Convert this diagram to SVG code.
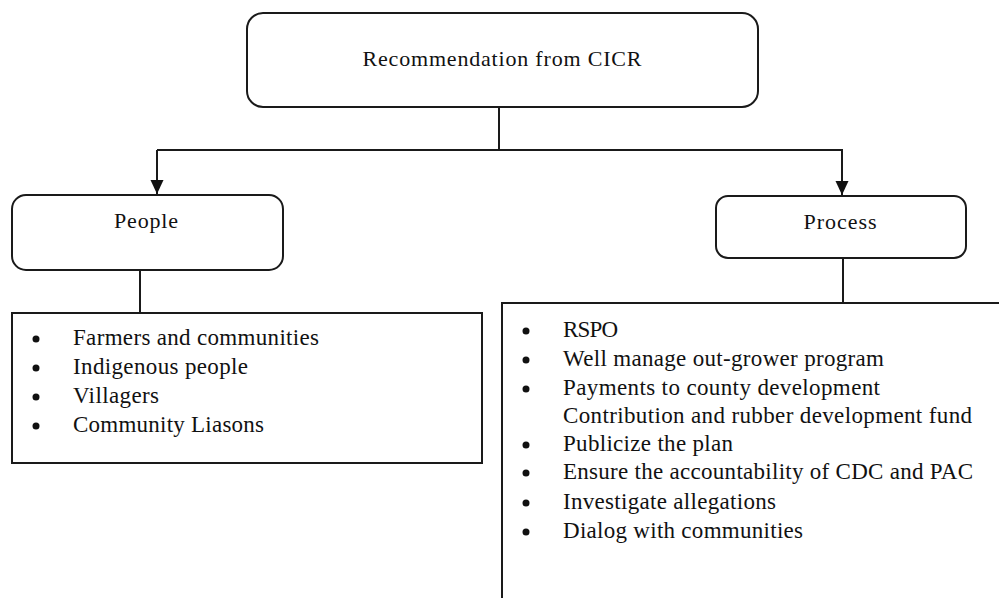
<svg xmlns="http://www.w3.org/2000/svg" width="999" height="598" viewBox="0 0 999 598">
<defs>
<style>
.box{fill:#fff;stroke:#1a1a1a;stroke-width:2}
.ln{fill:none;stroke:#1a1a1a;stroke-width:2}
text{font-family:"Liberation Serif","Times New Roman",serif;fill:#111}
.h{font-size:22px;text-anchor:middle}
.li{font-size:23px}
.b{fill:#111}
</style>
<marker id="arr" markerWidth="14" markerHeight="14" refX="14" refY="7" orient="auto" markerUnits="userSpaceOnUse" viewBox="0 0 14 14">
<path d="M0,0.5 L14,7 L0,13.5 z" fill="#111"/>
</marker>
</defs>
<g id="connectors">
<path class="ln" d="M499,107 V150"/>
<path class="ln" d="M157,150 H843"/>
<path class="ln" d="M157,150 V194" marker-end="url(#arr)"/>
<path class="ln" d="M842,150 V195" marker-end="url(#arr)"/>
<path class="ln" d="M140,270 V313"/>
<path class="ln" d="M843,258 V303"/>
</g>
<g id="root">
<rect class="box" x="247" y="13" width="511" height="94" rx="16"/>
<text class="h" x="502" y="66" textLength="279" lengthAdjust="spacing">Recommendation from CICR</text>
</g>
<g id="people">
<rect class="box" x="12" y="195" width="271" height="75" rx="14"/>
<text class="h" x="146" y="228" textLength="64" lengthAdjust="spacing">People</text>
</g>
<g id="process">
<rect class="box" x="716" y="196" width="250" height="62" rx="12"/>
<text class="h" x="840" y="229" textLength="73" lengthAdjust="spacing">Process</text>
</g>
<g id="people-list">
<rect class="box" x="12" y="313" width="470" height="150"/>
<g class="li">
<circle class="b" cx="36" cy="339" r="3.5"/><text x="73" y="345" textLength="246" lengthAdjust="spacing">Farmers and communities</text>
<circle class="b" cx="36" cy="368" r="3.5"/><text x="73" y="374" textLength="175" lengthAdjust="spacing">Indigenous people</text>
<circle class="b" cx="36" cy="397" r="3.5"/><text x="73" y="403" textLength="86" lengthAdjust="spacing">Villagers</text>
<circle class="b" cx="36" cy="426" r="3.5"/><text x="73" y="432" textLength="191" lengthAdjust="spacing">Community Liasons</text>
</g>
</g>
<g id="process-list">
<path class="box" d="M502,600 V303 H1001"/>
<g class="li">
<circle class="b" cx="526" cy="331" r="3.5"/><text x="563" y="337" textLength="55" lengthAdjust="spacing">RSPO</text>
<circle class="b" cx="526" cy="360" r="3.5"/><text x="563" y="366" textLength="321" lengthAdjust="spacing">Well manage out-grower program</text>
<circle class="b" cx="526" cy="389" r="3.5"/><text x="563" y="395" textLength="317" lengthAdjust="spacing">Payments to county development</text>
<text x="563" y="423" textLength="409" lengthAdjust="spacing">Contribution and rubber development fund</text>
<circle class="b" cx="526" cy="445" r="3.5"/><text x="563" y="451" textLength="170" lengthAdjust="spacing">Publicize the plan</text>
<circle class="b" cx="526" cy="473" r="3.5"/><text x="563" y="479" textLength="410" lengthAdjust="spacing">Ensure the accountability of CDC and PAC</text>
<circle class="b" cx="526" cy="503" r="3.5"/><text x="563" y="509" textLength="213" lengthAdjust="spacing">Investigate allegations</text>
<circle class="b" cx="526" cy="532" r="3.5"/><text x="563" y="538" textLength="240" lengthAdjust="spacing">Dialog with communities</text>
</g>
</g>
</svg>
